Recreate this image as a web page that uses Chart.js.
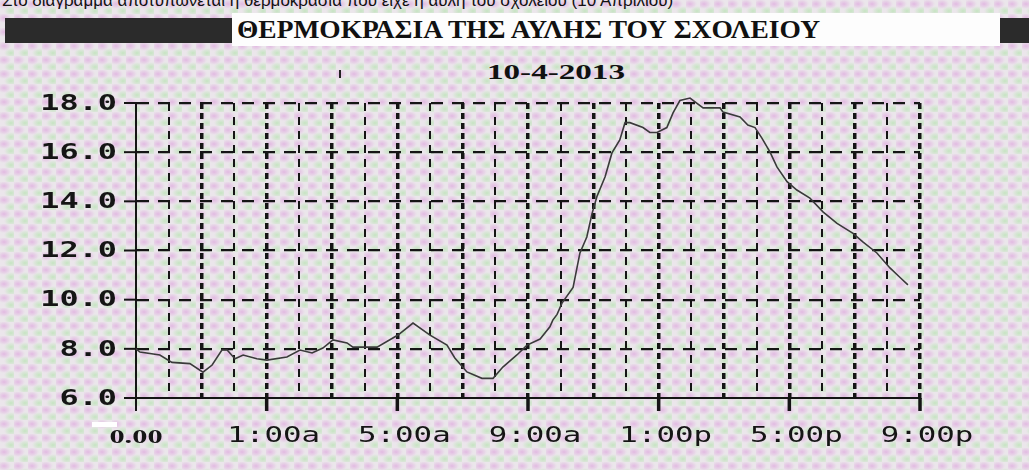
<!DOCTYPE html>
<html>
<head>
<meta charset="utf-8">
<script src="https://cdn.jsdelivr.net/npm/chart.js"></script>
<style>
  body {
    margin: 0; width: 1029px; height: 470px; overflow: hidden; position: relative;
    background-color: #ebe6eb;
    background-image:
      radial-gradient(ellipse 7px 5px at 4px 4px, rgba(222,168,222,.7), transparent),
      radial-gradient(ellipse 7px 5px at 11px 11px, rgba(182,228,176,.7), transparent);
    background-size: 14px 14px;
  }
  #topline { position: absolute; left: 2px; top: -9px; font: 17px 'Liberation Sans', Arial, sans-serif; color: #111; white-space: nowrap; }
  #band { position: absolute; left: 5px; right: 0; top: 18px; height: 25px; background: #2b2b2b; }
  #box { position: absolute; left: 232px; top: 13px; width: 768px; height: 33px; background: #fdfdfd; }
  #title { position: absolute; left: 237px; top: 15px; font: bold 26px 'Liberation Serif', serif; color: #111; white-space: nowrap; transform-origin: 0 0; }
  #date { position: absolute; top: 59px; font: bold 22px 'Liberation Serif', serif; color: #111; white-space: nowrap; transform-origin: 0 0; }
  #mark { position: absolute; left: 339px; top: 70px; width: 2px; height: 8px; background: #222; }
  #smudge { position: absolute; left: 92px; top: 422px; width: 25px; height: 5px; background: #fff; }
  canvas { position: absolute; left: 0; top: 0; }
</style>
</head>
<body>
<div id="topline">Στο διάγραμμα αποτυπώνεται η θερμοκρασία που είχε η αυλή του σχολείου (10 Απριλίου)</div>
<div id="band"></div>
<div id="box"></div>
<div id="title">ΘΕΡΜΟΚΡΑΣΙΑ ΤΗΣ ΑΥΛΗΣ ΤΟΥ ΣΧΟΛΕΙΟΥ</div>
<div id="date">10-4-2013</div>
<div id="mark"></div>
<div id="smudge"></div>
<canvas id="myChart" width="1029" height="470"></canvas>
<script>
// hours since the start of the axis
const hours = [0, 0.12, 0.73, 1.10, 1.65, 2.05, 2.33, 2.63, 2.79, 3.03, 3.28, 3.70, 4.01, 4.62, 5.02,
  5.39, 5.72, 6.03, 6.46, 6.64, 7.38, 8.02, 8.48, 9.0, 9.52, 9.76, 10.13, 10.59, 10.93, 11.23,
  11.66, 11.97, 12.37, 12.67, 12.76, 12.89, 13.04, 13.38, 13.59, 13.8, 13.96, 14.11, 14.36, 14.57, 14.81,
  14.97, 15.12, 15.52, 15.73, 15.95, 16.25, 16.44, 16.65, 16.96, 17.36, 17.88, 17.97, 18.49, 18.73, 18.95,
  19.16, 19.41, 19.62, 19.93, 20.23, 20.63, 21.03, 21.46, 21.95, 22.25, 22.68, 23.08, 23.39, 23.63];
const temps = [8.0, 7.87, 7.75, 7.45, 7.4, 7.05, 7.34, 7.95, 7.95, 7.6, 7.75, 7.6, 7.54, 7.67, 7.95,
  7.83, 8.03, 8.36, 8.24, 8.07, 8.07, 8.56, 9.05, 8.56, 8.15, 7.63, 7.06, 6.8, 6.8, 7.26,
  7.75, 8.15, 8.4, 8.9, 9.17, 9.4, 9.86, 10.5, 11.9, 12.55, 13.5, 14.2, 15.0, 15.97, 16.5,
  17.2, 17.2, 17.0, 16.8, 16.8, 17.0, 17.6, 18.1, 18.2, 17.8, 17.8, 17.63, 17.43, 17.1, 17.0,
  16.57, 16.0, 15.4, 14.8, 14.46, 14.13, 13.57, 13.1, 12.7, 12.35, 11.9, 11.29, 10.9, 10.6];

const xTickValues = [0, 4, 8, 12, 16, 20, 24];
const xTickLabels = ['0.00', '1:00a', '5:00a', '9:00a', '1:00p', '5:00p', '9:00p'];
const yMin = 6, yMax = 18, yStep = 2;

// stretch the html titles to the width they have in the photo
function fitWidth(id, w, centerX) {
  const el = document.getElementById(id);
  const s = w / el.getBoundingClientRect().width;
  el.style.transform = 'scaleX(' + s + ')';
  if (centerX !== undefined) el.style.left = (centerX - w / 2) + 'px';
}
fitWidth('title', 583);
fitWidth('date', 138, 556);

const ink = '#151515';

// wide, photo-like text
function wideText(ctx, str, x, y, font, sx, align) {
  ctx.save();
  ctx.font = font;
  ctx.translate(x, y);
  ctx.scale(sx, 1);
  ctx.textAlign = align;
  ctx.textBaseline = 'middle';
  ctx.fillStyle = ink;
  ctx.fillText(str, 0, 0);
  ctx.restore();
}

const axisExtras = {
  id: 'axisExtras',
  afterDraw(chart) {
    const {ctx, chartArea, scales: {x, y}} = chart;
    ctx.save();
    ctx.strokeStyle = ink;
    // y axis runs a bit below the x axis
    ctx.lineWidth = 2;
    ctx.beginPath();
    ctx.moveTo(chartArea.left, chartArea.bottom);
    ctx.lineTo(chartArea.left, chartArea.bottom + 13);
    ctx.stroke();
    // y ticks + labels
    y.ticks.forEach(t => {
      const py = y.getPixelForValue(t.value);
      ctx.beginPath();
      ctx.moveTo(chartArea.left - 12, py);
      ctx.lineTo(chartArea.left, py);
      ctx.stroke();
      wideText(ctx, t.value.toFixed(1), chartArea.left - 19, py + 1, 'bold 22px "DejaVu Sans Mono"', 1.45, 'right');
    });
    // x major ticks + labels
    xTickValues.forEach((v, i) => {
      const px = x.getPixelForValue(v);
      if (v > 0) {
        ctx.lineWidth = 3.5;
        ctx.beginPath();
        ctx.moveTo(px, chartArea.bottom);
        ctx.lineTo(px, chartArea.bottom + 13);
        ctx.stroke();
      }
      if (v === 0) {
        wideText(ctx, xTickLabels[i], px, chartArea.bottom + 40, 'bold 19px "Liberation Serif"', 1.6, 'center');
      } else {
        wideText(ctx, xTickLabels[i], px + 7, chartArea.bottom + 38, '22px "DejaVu Sans Mono"', 1.4, 'center');
      }
    });
    ctx.restore();
  }
};

const data = {
  datasets: [{
    label: 'Θερμοκρασία',
    data: hours.map((h, i) => ({x: h, y: temps[i]})),
    borderColor: '#3a3a3a',
    borderWidth: 1.6,
    pointRadius: 0,
    tension: 0,
    clip: false
  }]
};

const config = {
  type: 'line',
  data: data,
  options: {
    responsive: false,
    animation: false,
    layout: { padding: { left: 136, top: 103, right: 109, bottom: 72 } },
    plugins: { legend: { display: false }, tooltip: { enabled: false } },
    scales: {
      x: {
        type: 'linear', min: 0, max: 24,
        afterFit: s => { s.height = 0; },
        ticks: { display: false, stepSize: 1 },
        grid: {
          drawTicks: false,
          color: ctx => ctx.tick.value === 0 ? 'rgba(0,0,0,0)' : ink,
          lineWidth: ctx => ctx.tick.value % 2 === 0 ? 3.5 : 2
        },
        border: {
          color: ink, width: 2,
          dash: ctx => ctx.tick ? (ctx.tick.value % 2 === 0 ? [6, 4] : [8, 6]) : []
        }
      },
      y: {
        min: yMin, max: yMax,
        afterFit: s => { s.width = 0; },
        ticks: { display: false, stepSize: yStep },
        grid: {
          drawTicks: false,
          color: ctx => ctx.tick.value === yMin ? 'rgba(0,0,0,0)' : ink,
          lineWidth: 2.2
        },
        border: {
          color: ink, width: 2,
          dash: ctx => ctx.tick ? [12, 9] : []
        }
      }
    }
  },
  plugins: [axisExtras]
};

const myChart = new Chart(document.getElementById('myChart'), config);
</script>
</body>
</html>
